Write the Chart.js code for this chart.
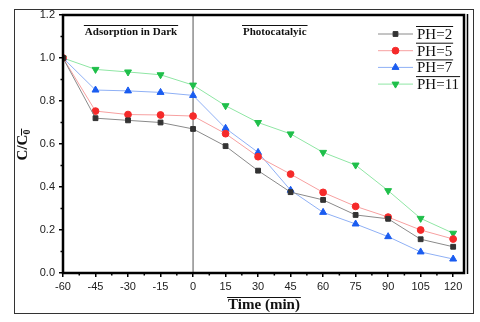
<!DOCTYPE html>
<html>
<head>
<meta charset="utf-8">
<script src="https://cdn.jsdelivr.net/npm/chart.js@4.4.1/dist/chart.umd.min.js"></script>
<style>
  html, body { margin: 0; padding: 0; background: #fff; }
  canvas { display: block; }
</style>
</head>
<body>
<canvas id="rateChart" width="480" height="322"></canvas>
<script>
// time points (min)
const times = [-60, -45, -30, -15, 0, 15, 30, 45, 60, 75, 90, 105, 120];
const xTicks = [-60, -45, -30, -15, 0, 15, 30, 45, 60, 75, 90, 105, 120];
const yTicks = [0.0, 0.2, 0.4, 0.6, 0.8, 1.0, 1.2];

// C/C0 for each pH
const ph2 = [1.0, 0.72, 0.71, 0.70, 0.67, 0.59, 0.476, 0.376, 0.34, 0.27, 0.252, 0.157, 0.122];
const ph5 = [1.0, 0.753, 0.737, 0.735, 0.73, 0.648, 0.541, 0.46, 0.375, 0.31, 0.26, 0.20, 0.158];
const ph7 = [1.0, 0.851, 0.847, 0.84, 0.826, 0.673, 0.561, 0.385, 0.282, 0.228, 0.169, 0.098, 0.065];
const ph11 = [1.0, 0.947, 0.935, 0.922, 0.874, 0.778, 0.70, 0.647, 0.561, 0.502, 0.383, 0.254, 0.185];

const seriesNames = ['PH=2', 'PH=5', 'PH=7', 'PH=11'];
const phaseLabels = ['Adsorption in Dark', 'Photocatalyic'];

function toPoints(values) {
    return times.map(function (t, i) { return { x: t, y: values[i] }; });
}

const serif = "'Liberation Serif', 'Times New Roman', serif";
const sans = "'Liberation Sans', Arial, sans-serif";

function textWidthAt(ctx, text, x, y, font, align) {
    ctx.font = font;
    ctx.textAlign = align || 'left';
    ctx.textBaseline = 'middle';
    ctx.fillStyle = '#111';
    ctx.fillText(text, x, y);
    const w = ctx.measureText(text).width;
    const x0 = align === 'center' ? x - w / 2 : x;
    return { x0: x0, w: w };
}

function overline(ctx, m, y) {
    ctx.strokeStyle = '#111';
    ctx.lineWidth = 1;
    ctx.beginPath();
    ctx.moveTo(m.x0 - 1, y);
    ctx.lineTo(m.x0 + m.w + 1, y);
    ctx.stroke();
}

const decorations = {
    id: 'decorations',
    beforeDatasetsDraw(chart) {
        const ctx = chart.ctx;
        const area = chart.chartArea;
        // divider at t = 0
        const x0 = chart.scales.x.getPixelForValue(0);
        ctx.save();
        ctx.strokeStyle = '#555';
        ctx.lineWidth = 1;
        ctx.beginPath();
        ctx.moveTo(x0, area.top);
        ctx.lineTo(x0, area.bottom);
        ctx.stroke();
        ctx.restore();
    },
    afterDraw(chart) {
        const ctx = chart.ctx;
        const xs = chart.scales.x;
        const ys = chart.scales.y;
        const area = chart.chartArea;
        ctx.save();

        // outer frame
        ctx.strokeStyle = '#333';
        ctx.lineWidth = 1;
        ctx.strokeRect(14.5, 9.5, 459, 304);

        // minor ticks
        ctx.strokeStyle = '#000';
        ctx.lineWidth = 1.5;
        for (let v = -52.5; v < 125; v += 15) {
            const px = xs.getPixelForValue(v);
            ctx.beginPath();
            ctx.moveTo(px, area.bottom);
            ctx.lineTo(px, area.bottom + 2.5);
            ctx.stroke();
        }
        for (let v = 0.1; v < 1.2; v += 0.2) {
            const py = ys.getPixelForValue(v);
            ctx.beginPath();
            ctx.moveTo(area.left, py);
            ctx.lineTo(area.left - 2.5, py);
            ctx.stroke();
        }

        // plot border
        ctx.lineWidth = 2.5;
        ctx.strokeRect(area.left, area.top, area.right - area.left, area.bottom - area.top);
        ctx.lineWidth = 1.5;
        ctx.beginPath();
        ctx.moveTo(area.right + 3.5, area.top - 1);
        ctx.lineTo(area.right + 3.5, area.bottom + 1);
        ctx.stroke();

        // phase annotations
        const boldSmall = 'bold 11px ' + serif;
        overline(ctx, textWidthAt(ctx, phaseLabels[0], 131, 32, boldSmall, 'center'), 25.5);
        overline(ctx, textWidthAt(ctx, phaseLabels[1], 243, 32, boldSmall, 'left'), 25.5);

        // x title
        overline(ctx, textWidthAt(ctx, 'Time (min)', 264, 305, 'bold 15px ' + serif, 'center'), 297.5);

        // y title C/C0
        ctx.save();
        ctx.translate(23, 145);
        ctx.rotate(-Math.PI / 2);
        ctx.textAlign = 'left';
        ctx.textBaseline = 'middle';
        ctx.fillStyle = '#111';
        ctx.font = 'bold 15px ' + serif;
        const mw = ctx.measureText('C/C').width;
        ctx.font = 'bold 10px ' + serif;
        const sw = ctx.measureText('0').width;
        const start = -(mw + sw) / 2;
        ctx.font = 'bold 15px ' + serif;
        ctx.fillText('C/C', start, 0);
        ctx.font = 'bold 10px ' + serif;
        ctx.fillText('0', start + mw, 4);
        ctx.strokeStyle = '#111';
        ctx.lineWidth = 1;
        ctx.beginPath();
        ctx.moveTo(start + mw - 1, -1.5);
        ctx.lineTo(start + mw + sw + 1, -1.5);
        ctx.stroke();
        ctx.restore();

        // legend
        chart.data.datasets.forEach(function (ds, i) {
            const y = 34 + i * 16.7;
            ctx.strokeStyle = ds.borderColor;
            ctx.lineWidth = 1;
            ctx.beginPath();
            ctx.moveTo(378, y);
            ctx.lineTo(413, y);
            ctx.stroke();
            ctx.fillStyle = ds.pointBackgroundColor;
            ctx.strokeStyle = ds.pointBorderColor;
            Chart.helpers.drawPoint(ctx, {
                pointStyle: ds.pointStyle,
                radius: ds.pointRadius,
                rotation: ds.pointRotation || 0,
                borderWidth: 1
            }, 395.5, y);
            const m = textWidthAt(ctx, ds.label, 417, y + 1, '15px ' + serif, 'left');
            overline(ctx, m, y - 7.5);
        });

        ctx.restore();
    }
};

function makeSet(label, values, line, mark, style, radius, rotation) {
    return {
        label: label,
        data: toPoints(values),
        borderColor: line,
        borderWidth: 1,
        pointStyle: style,
        pointRadius: radius,
        pointRotation: rotation,
        pointBackgroundColor: mark,
        pointBorderColor: mark,
        pointBorderWidth: 1,
        tension: 0,
        fill: false
    };
}

const ctx = document.getElementById('rateChart').getContext('2d');
new Chart(ctx, {
    type: 'line',
    data: {
        datasets: [
            makeSet(seriesNames[0], ph2, '#8a8a8a', '#333333', 'rect', 3.4, 0),
            makeSet(seriesNames[1], ph5, '#f7a0a0', '#f52a2a', 'circle', 3.4, 0),
            makeSet(seriesNames[2], ph7, '#8fb0f5', '#1a5cf0', 'triangle', 4, 0),
            makeSet(seriesNames[3], ph11, '#8fe6a4', '#1fbf4a', 'triangle', 4, 180)
        ]
    },
    plugins: [decorations],
    options: {
        responsive: false,
        animation: false,
        layout: { padding: { left: 0, right: 16, top: 15, bottom: 0 } },
        plugins: {
            legend: { display: false },
            tooltip: { enabled: false }
        },
        scales: {
            x: {
                type: 'linear',
                min: -60,
                max: 125,
                afterFit: function (s) { s.height = 49; },
                afterBuildTicks: function (s) { s.ticks = xTicks.map(function (v) { return { value: v }; }); },
                border: { display: false },
                grid: { drawOnChartArea: false, drawTicks: true, tickLength: 4, color: '#000', lineWidth: 1.5 },
                ticks: {
                    padding: 3,
                    color: '#222',
                    font: { family: sans, size: 11 },
                    maxRotation: 0,
                    callback: function (v) { return String(v); }
                }
            },
            y: {
                min: 0,
                max: 1.2,
                afterFit: function (s) { s.width = 63; },
                afterBuildTicks: function (s) { s.ticks = yTicks.map(function (v) { return { value: v }; }); },
                border: { display: false },
                grid: { drawOnChartArea: false, drawTicks: true, tickLength: 4, color: '#000', lineWidth: 1.5 },
                ticks: {
                    padding: 4,
                    color: '#222',
                    font: { family: sans, size: 11 },
                    callback: function (v) { return Number(v).toFixed(1); }
                }
            }
        }
    }
});
</script>
</body>
</html>
